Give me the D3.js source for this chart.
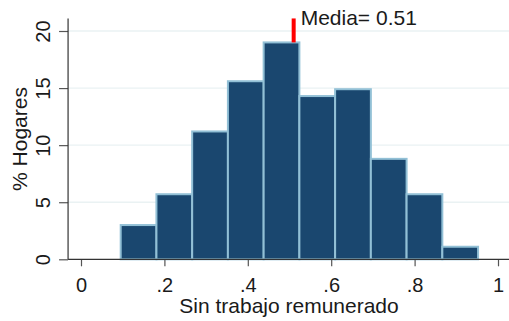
<!DOCTYPE html>
<html><head><meta charset="utf-8">
<script src="https://cdn.jsdelivr.net/npm/d3@7"></script>
<style>
html,body{margin:0;padding:0;background:#fff;}
text{font-family:"Liberation Sans",Arial,sans-serif;fill:#1a1a1a;}
</style></head>
<body>
<svg id="c" width="509" height="321"></svg>
<script>
// Data
const binStart = [0.0952,0.1809,0.2666,0.3523,0.4380,0.5237,0.6094,0.6951,0.7808,0.8665];
const binWidth = 0.0857;
const pctHogares = [3.0,5.7,11.2,15.6,19.0,14.3,14.9,8.8,5.7,1.1];
const xTicks = [0,0.2,0.4,0.6,0.8,1];
const xTickLabels = ["0",".2",".4",".6",".8","1"];
const yTicks = [0,5,10,15,20];
const meanValue = 0.51;
const meanLabel = "Media= 0.51";
const xTitle = "Sin trabajo remunerado";
const yTitle = "% Hogares";

const svg = d3.select("#c");
const x = d3.scaleLinear().domain([0,1]).range([81,498]);
const y = d3.scaleLinear().domain([0,20]).range([259.3,31]);
const xLeft = x(-0.031), xRight = 509;

// gridlines
svg.append("g").selectAll("line").data(yTicks.filter(d=>d>0)).join("line")
  .attr("x1",xLeft).attr("x2",xRight).attr("y1",d=>y(d)).attr("y2",d=>y(d))
  .attr("stroke","#eaf2f3").attr("stroke-width",1.3);

// bars
svg.append("g").selectAll("rect").data(pctHogares).join("rect")
  .attr("x",(d,i)=>x(binStart[i]))
  .attr("width",(d,i)=>x(binStart[i]+binWidth)-x(binStart[i]))
  .attr("y",d=>y(d)).attr("height",d=>y(0)-y(d))
  .attr("fill","#1a476f").attr("stroke","#92c0d6").attr("stroke-width",2);

// mean marker
svg.append("line").attr("x1",x(meanValue)).attr("x2",x(meanValue))
  .attr("y1",y(21.1)).attr("y2",y(19.0))
  .attr("stroke","#ff0000").attr("stroke-width",4);
svg.append("text").attr("x",x(meanValue)+7).attr("y",25)
  .attr("font-size",21).text(meanLabel);

// axes
const xAxis = d3.axisBottom(x).tickValues(xTicks).tickFormat((d,i)=>xTickLabels[i]).tickSize(7).tickPadding(4);
const gx = svg.append("g").attr("transform",`translate(0,${y(0)})`).call(xAxis);
gx.select(".domain").remove();
gx.append("line").attr("x1",xLeft).attr("x2",xRight).attr("y1",0).attr("y2",0).attr("stroke","#333").attr("stroke-width",1.2);
gx.selectAll(".tick line").attr("stroke","#555").attr("stroke-width",1.2);
gx.selectAll(".tick text").attr("font-size",20).attr("fill","#1a1a1a").attr("dy","0.72em").attr("y",18);

const yAxis = d3.axisLeft(y).tickValues(yTicks).tickSize(9).tickFormat(d3.format("d"));
const gy = svg.append("g").attr("transform",`translate(${xLeft},0)`).call(yAxis);
gy.select(".domain").remove();
gy.append("line").attr("x1",0).attr("x2",0).attr("y1",y(21.1)).attr("y2",y(0)).attr("stroke","#333").attr("stroke-width",1.2);
gy.selectAll(".tick line").attr("stroke","#555").attr("stroke-width",1.2);
gy.selectAll(".tick text").attr("font-size",20).attr("fill","#1a1a1a")
  .attr("x",null).attr("dy",null)
  .attr("transform","translate(-18,0) rotate(-90)")
  .attr("text-anchor","middle").attr("y",0).attr("dy","0");

// titles
svg.append("text").attr("x",(178+400)/2).attr("y",313).attr("text-anchor","middle")
  .attr("font-size",21).text(xTitle);
svg.append("text").attr("transform",`translate(27,139) rotate(-90)`).attr("text-anchor","middle")
  .attr("font-size",21).text(yTitle);
</script>
</body></html>
